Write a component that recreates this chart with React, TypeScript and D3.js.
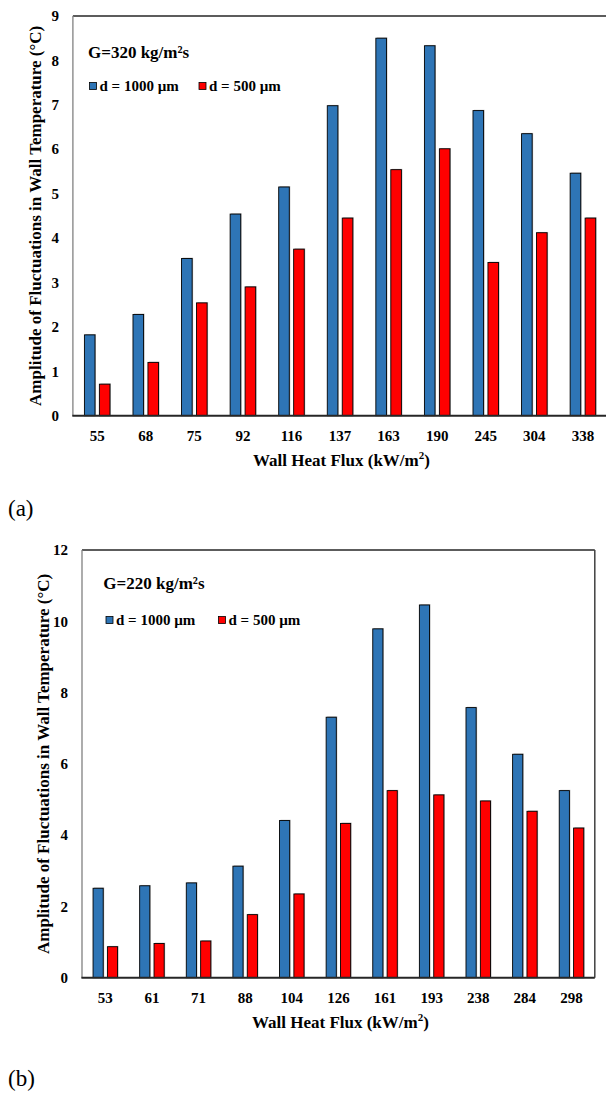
import React from "react";
import * as d3 from "d3";

// ---- Data ----
const fluxA = ["55", "68", "75", "92", "116", "137", "163", "190", "245", "304", "338"];
const d1000A = [1.82, 2.28, 3.54, 4.54, 5.15, 6.98, 8.5, 8.33, 6.87, 6.35, 5.46];
const d500A = [0.71, 1.2, 2.54, 2.9, 3.75, 4.45, 5.54, 6.01, 3.45, 4.12, 4.45];
const ticksA = [0, 1, 2, 3, 4, 5, 6, 7, 8, 9];

const fluxB = ["53", "61", "71", "88", "104", "126", "161", "193", "238", "284", "298"];
const d1000B = [2.51, 2.58, 2.66, 3.13, 4.41, 7.31, 9.79, 10.46, 7.58, 6.27, 5.25];
const d500B = [0.87, 0.96, 1.03, 1.77, 2.35, 4.33, 5.25, 5.13, 4.96, 4.67, 4.2];
const ticksB = [0, 2, 4, 6, 8, 10, 12];

const seriesNames = ["d = 1000 µm", "d = 500 µm"];
const seriesColors = ["#2E75B6", "#FF0000"];
const yTitle = "Amplitude of Fluctuations in Wall Temperature (°C)";
const xTitle = "Wall Heat Flux (kW/m²)";

const FONT = "'Liberation Serif', 'Times New Roman', serif";

type ChartProps = {
  cats: string[];
  s1: number[];
  s2: number[];
  ticks: number[];
  yMax: number;
  left: number;
  right: number;
  top: number;
  bottom: number;
  gLabel: string;
  gX: number;
  gY: number;
  legY: number;
  legX1: number;
  legX2: number;
  yTitleX: number;
  panel: string;
  panelY: number;
};

function Chart(p: ChartProps) {
  const x = d3.scaleBand<string>().domain(p.cats).range([p.left, p.right]).padding(0);
  const y = d3.scaleLinear().domain([0, p.yMax]).range([p.bottom, p.top]);
  const band = x.bandwidth();
  const bw = band * 0.218;
  const gap = band * 0.09;
  const groupW = bw * 2 + gap;
  const series = [p.s1, p.s2];
  return (
    <g fontFamily={FONT}>
      {/* bars */}
      {series.map((vals, si) =>
        vals.map((v, i) => {
          const x0 = (x(p.cats[i]) as number) + band / 2 - groupW / 2 + si * (bw + gap);
          const y0 = y(v);
          const h = y(0) - y0;
          return (
            <g key={`${si}-${i}`}>
              <rect x={x0 + 1} y={y0 - 0.8} width={bw} height={h} fill="#b8b8b8" />
              <rect x={x0} y={y0} width={bw} height={h} fill={seriesColors[si]} stroke="#000" strokeWidth={0.9} />
            </g>
          );
        })
      )}
      {/* frame */}
      <line x1={p.left} x2={p.right} y1={p.top} y2={p.top} stroke="#262626" strokeWidth={1.5} />
      <line x1={p.right} x2={p.right} y1={p.top} y2={p.bottom} stroke="#404040" strokeWidth={1.5} />
      <line x1={p.left} x2={p.left} y1={p.top} y2={p.bottom} stroke="#808080" strokeWidth={1.3} />
      <line x1={p.left - 0.6} x2={p.right} y1={p.bottom} y2={p.bottom} stroke="#262626" strokeWidth={2} />
      {/* y ticks */}
      {p.ticks.map((t) => (
        <text key={t} x={p.left - 14} y={y(t)} dy="0.35em" textAnchor="end" fontSize={15} fontWeight="bold" fill="#000">
          {t}
        </text>
      ))}
      {/* x ticks */}
      {p.cats.map((c) => (
        <text key={c} x={(x(c) as number) + band / 2} y={p.bottom + 20} dy="0.35em" textAnchor="middle" fontSize={15} fontWeight="bold">
          {c}
        </text>
      ))}
      {/* titles */}
      <text x={(p.left + Math.min(p.right, 606)) / 2 + 2} y={p.bottom + 44} dy="0.35em" textAnchor="middle" fontSize={17} fontWeight="bold">
        Wall Heat Flux (kW/m<tspan fontSize={11} dy="-0.6em">2</tspan><tspan dy="0.39em">)</tspan>
      </text>
      <text
        transform={`translate(${p.yTitleX},${(p.top + p.bottom) / 2}) rotate(-90)`}
        dy="0.35em"
        textAnchor="middle"
        fontSize={17}
        fontWeight="bold"
      >
        {yTitle}
      </text>
      {/* annotation & legend */}
      <text x={p.gX} y={p.gY} dy="0.35em" fontSize={17} fontWeight="bold">
        {p.gLabel}
      </text>
      {[p.legX1, p.legX2].map((lx, i) => (
        <g key={i}>
          <rect x={lx} y={p.legY - 3.5} width={7} height={7} fill={seriesColors[i]} stroke="#000" strokeWidth={0.8} />
          <text x={lx + 10} y={p.legY} dy="0.35em" fontSize={15} fontWeight="bold">
            {seriesNames[i]}
          </text>
        </g>
      ))}
      <text x={8} y={p.panelY} dy="0.35em" fontSize={23}>
        {p.panel}
      </text>
    </g>
  );
}

export default function App() {
  return (
    <svg
      width={606}
      height={1095}
      style={{ position: "absolute", left: 0, top: 0, background: "#fff" }}
      xmlns="http://www.w3.org/2000/svg"
    >
      <rect width={606} height={1095} fill="#fff" />
      <Chart
        cats={fluxA}
        s1={d1000A}
        s2={d500A}
        ticks={ticksA}
        yMax={9}
        left={72.9}
        right={607.2}
        top={16}
        bottom={415.7}
        gLabel="G=320 kg/m²s"
        gX={88}
        gY={52}
        legY={86}
        legX1={89.5}
        legX2={199}
        yTitleX={35}
        panel="(a)"
        panelY={508}
      />
      <Chart
        cats={fluxB}
        s1={d1000B}
        s2={d500B}
        ticks={ticksB}
        yMax={12}
        left={82}
        right={594.8}
        top={550.1}
        bottom={977.7}
        gLabel="G=220 kg/m²s"
        gX={103.3}
        gY={583}
        legY={620}
        legX1={106}
        legX2={218.5}
        yTitleX={43}
        panel="(b)"
        panelY={1078}
      />
    </svg>
  );
}
